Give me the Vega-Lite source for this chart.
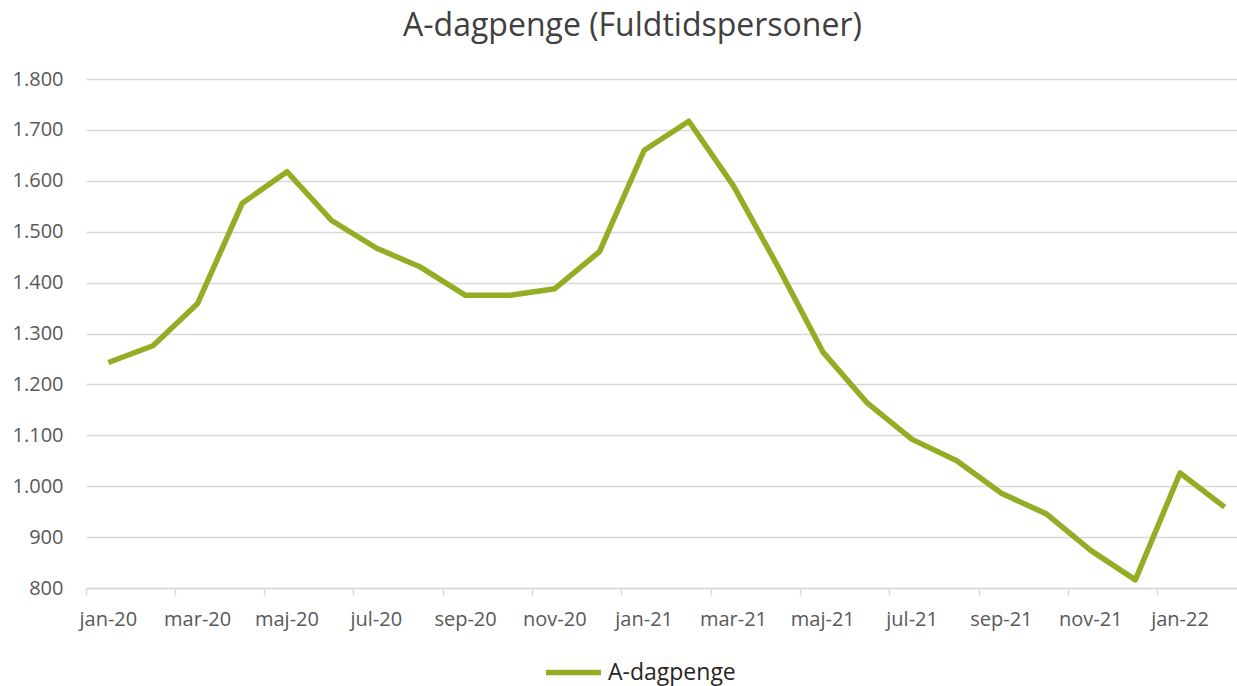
{
  "$schema": "https://vega.github.io/schema/vega-lite/v6.json",
  "autosize": {"type": "none"},
  "width": 1151,
  "height": 509,
  "padding": {"left": 86, "top": 79, "right": 0, "bottom": 98},
  "background": "white",
  "config": {
    "locale": {"number": {"decimal": ",", "thousands": ".", "grouping": [3], "currency": ["", " kr"]}},
    "view": {"stroke": null},
    "font": "Open Sans"
  },
  "title": {
    "text": "A-dagpenge (Fuldtidspersoner)",
    "fontSize": 32,
    "fontWeight": "normal",
    "color": "#404040",
    "font": "Open Sans",
    "anchor": "middle",
    "dx": -29,
    "offset": 26
  },
  "data": {
    "values": [
      {"maaned": "jan-20", "serie": "A-dagpenge", "vaerdi": 1243},
      {"maaned": "feb-20", "serie": "A-dagpenge", "vaerdi": 1276},
      {"maaned": "mar-20", "serie": "A-dagpenge", "vaerdi": 1359},
      {"maaned": "apr-20", "serie": "A-dagpenge", "vaerdi": 1556},
      {"maaned": "maj-20", "serie": "A-dagpenge", "vaerdi": 1618},
      {"maaned": "jun-20", "serie": "A-dagpenge", "vaerdi": 1522},
      {"maaned": "jul-20", "serie": "A-dagpenge", "vaerdi": 1468},
      {"maaned": "aug-20", "serie": "A-dagpenge", "vaerdi": 1430},
      {"maaned": "sep-20", "serie": "A-dagpenge", "vaerdi": 1375},
      {"maaned": "okt-20", "serie": "A-dagpenge", "vaerdi": 1375},
      {"maaned": "nov-20", "serie": "A-dagpenge", "vaerdi": 1388},
      {"maaned": "dec-20", "serie": "A-dagpenge", "vaerdi": 1461},
      {"maaned": "jan-21", "serie": "A-dagpenge", "vaerdi": 1660},
      {"maaned": "feb-21", "serie": "A-dagpenge", "vaerdi": 1717},
      {"maaned": "mar-21", "serie": "A-dagpenge", "vaerdi": 1590},
      {"maaned": "apr-21", "serie": "A-dagpenge", "vaerdi": 1431},
      {"maaned": "maj-21", "serie": "A-dagpenge", "vaerdi": 1264},
      {"maaned": "jun-21", "serie": "A-dagpenge", "vaerdi": 1163},
      {"maaned": "jul-21", "serie": "A-dagpenge", "vaerdi": 1092},
      {"maaned": "aug-21", "serie": "A-dagpenge", "vaerdi": 1050},
      {"maaned": "sep-21", "serie": "A-dagpenge", "vaerdi": 986},
      {"maaned": "okt-21", "serie": "A-dagpenge", "vaerdi": 946},
      {"maaned": "nov-21", "serie": "A-dagpenge", "vaerdi": 874},
      {"maaned": "dec-21", "serie": "A-dagpenge", "vaerdi": 816},
      {"maaned": "jan-22", "serie": "A-dagpenge", "vaerdi": 1026},
      {"maaned": "feb-22", "serie": "A-dagpenge", "vaerdi": 959}
    ]
  },
  "mark": {"type": "line", "strokeWidth": 5.5, "strokeCap": "butt", "strokeJoin": "round"},
  "encoding": {
    "x": {
      "field": "maaned",
      "type": "ordinal",
      "sort": null,
      "scale": {"type": "band", "paddingInner": 0, "paddingOuter": 0, "range": [0, 1161]},
      "axis": {
        "title": null,
        "values": ["jan-20", "mar-20", "maj-20", "jul-20", "sep-20", "nov-20", "jan-21", "mar-21", "maj-21", "jul-21", "sep-21", "nov-21", "jan-22"],
        "bandPosition": 0,
        "labelOffset": 0,
        "labelAngle": 0,
        "labelFontSize": 20,
        "labelColor": "#595959",
        "labelFont": "Open Sans",
        "labelPadding": 14,
        "domainColor": "#d9d9d9",
        "domainWidth": 1.5,
        "tickColor": "#d9d9d9",
        "tickWidth": 1.5,
        "tickSize": 7,
        "grid": false
      }
    },
    "y": {
      "field": "vaerdi",
      "type": "quantitative",
      "scale": {"domain": [800, 1800], "nice": false, "zero": false},
      "axis": {
        "title": null,
        "values": [800, 900, 1000, 1100, 1200, 1300, 1400, 1500, 1600, 1700, 1800],
        "format": ",d",
        "labelFontSize": 20,
        "labelColor": "#595959",
        "labelFont": "Open Sans",
        "labelPadding": 23,
        "domain": false,
        "ticks": false,
        "gridColor": "#d9d9d9",
        "gridWidth": 1.5
      }
    },
    "color": {
      "field": "serie",
      "type": "nominal",
      "scale": {"range": ["#93AD25"]},
      "legend": {
        "title": null,
        "orient": "none",
        "legendX": 457,
        "legendY": 563,
        "symbolType": "stroke",
        "symbolSize": 3025,
        "symbolStrokeWidth": 5.5,
        "labelFontSize": 23,
        "labelColor": "#262626",
        "labelFont": "Open Sans",
        "labelOffset": 4
      }
    }
  }
}
